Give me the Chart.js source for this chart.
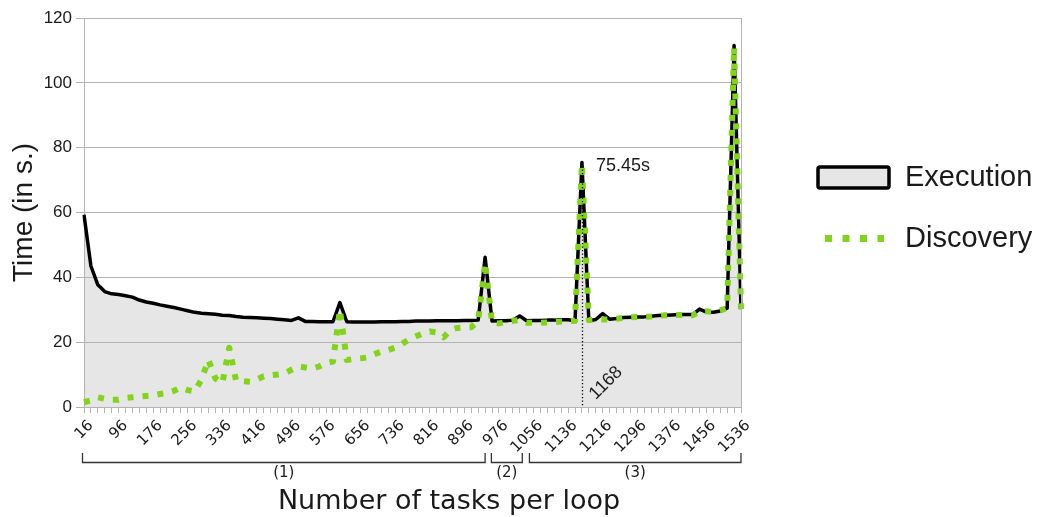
<!DOCTYPE html>
<html>
<head>
<meta charset="utf-8">
<script src="https://cdn.jsdelivr.net/npm/chart.js@4"></script>
<style>
  html, body { margin: 0; padding: 0; background: #ffffff; }
  #wrap { width: 1037px; height: 517px; position: relative; }
</style>
</head>
<body>
<div id="wrap"><canvas id="c"></canvas></div>
<script>
// Number of tasks per loop (x categories)
const tasks = [
  16, 32, 48, 64, 80, 96, 112, 128, 144, 160, 176, 192, 208, 224, 240, 256,
  272, 288, 304, 320, 336, 352, 368, 384, 400, 416, 432, 448, 464, 480, 496, 512,
  528, 544, 560, 576, 592, 608, 624, 640, 656, 672, 688, 704, 720, 736, 752, 768,
  784, 800, 816, 832, 848, 864, 880, 896, 912, 928, 944, 960, 976, 992, 1008, 1024,
  1040, 1056, 1072, 1088, 1104, 1120, 1136, 1152, 1168, 1184, 1200, 1216, 1232, 1248, 1264, 1280,
  1296, 1312, 1328, 1344, 1360, 1376, 1392, 1408, 1424, 1440, 1456, 1472, 1488, 1504, 1520, 1536
];

// Execution time (s)
const execution = [
  59.3, 43.5, 37.7, 35.6, 34.9, 34.7, 34.3, 33.9, 33.0, 32.4, 32.0, 31.5, 31.1, 30.7, 30.2, 29.7,
  29.2, 28.9, 28.8, 28.6, 28.3, 28.2, 27.9, 27.7, 27.6, 27.5, 27.4, 27.3, 27.1, 26.9, 26.7, 27.5,
  26.4, 26.4, 26.3, 26.3, 26.3, 32.2, 26.3, 26.2, 26.2, 26.2, 26.2, 26.3, 26.3, 26.3, 26.4, 26.4,
  26.5, 26.5, 26.5, 26.6, 26.6, 26.6, 26.6, 26.7, 26.7, 26.8, 46.2, 26.5, 26.6, 26.6, 26.8, 28.1,
  26.6, 26.7, 26.7, 26.8, 26.8, 26.9, 26.9, 26.6, 75.45, 26.6, 27.0, 28.8, 27.1, 27.3, 27.6, 27.7,
  27.8, 27.8, 28.0, 28.2, 28.3, 28.4, 28.5, 28.5, 28.5, 30.2, 29.3, 29.2, 29.6, 30.5, 111.5, 30.2
];

// Discovery time (s)
const discovery = [
  1.5, 2.0, 3.0, 2.5, 2.2, 2.2, 2.8, 3.0, 3.2, 3.4, 3.6, 4.0, 4.3, 5.0, 6.0, 5.2,
  4.8, 8.5, 14.5, 8.8, 7.3, 18.3, 8.0, 8.0, 7.8, 8.5, 9.5, 9.8, 10.0, 10.3, 11.5, 12.5,
  12.2, 11.8, 12.5, 13.5, 14.0, 30.0, 14.5, 14.8, 15.0, 15.3, 16.3, 17.1, 17.6, 18.3, 19.5, 20.8,
  21.8, 22.7, 23.3, 23.0, 21.5, 23.8, 24.4, 24.5, 24.6, 26.5, 44.5, 26.0, 25.8, 26.2, 26.6, 26.8,
  26.0, 26.0, 26.0, 26.1, 26.2, 26.4, 26.5, 26.6, 75.0, 26.8, 27.0, 27.0, 27.0, 27.2, 27.5, 27.7,
  27.8, 27.8, 27.9, 28.1, 28.3, 28.4, 28.4, 28.4, 28.3, 29.5, 29.5, 29.3, 29.8, 30.5, 111.0, 30.2
];

// Every fifth category carries a label
const labelEvery = 5;

// Task ranges grouped under the x axis
const sectionLabels = ['(1)', '(2)', '(3)'];
const sectionFrom   = [16, 962, 1050];
const sectionTo     = [944, 1030, 1536];

// Highlighted peak
const peakTask = 1168;
const peakValue = 75.45;

const GREEN = '#81d41a';
const GRID = '#b3b3b3';
const FILL = '#e6e6e6';
const TEXT = '#1a1a1a';

// Fractional category position for a task count
function taskIndex(t) { return (t - tasks[0]) / (tasks[1] - tasks[0]); }

const overlay = {
  id: 'overlay',
  afterDraw(chart) {
    const ctx = chart.ctx;
    const x = chart.scales.x, y = chart.scales.y;
    const area = chart.chartArea;
    ctx.save();

    // right frame edge
    ctx.strokeStyle = GRID;
    ctx.lineWidth = 1;
    ctx.beginPath();
    ctx.moveTo(Math.round(area.right) + 0.5, area.top);
    ctx.lineTo(Math.round(area.right) + 0.5, area.bottom);
    ctx.stroke();

    // dotted marker at the peak
    const px = x.getPixelForValue(taskIndex(peakTask));
    const py = y.getPixelForValue(peakValue);
    ctx.strokeStyle = '#000';
    ctx.lineWidth = 1.3;
    ctx.setLineDash([1.3, 2.2]);
    ctx.beginPath();
    ctx.moveTo(Math.round(px) + 0.5, py);
    ctx.lineTo(Math.round(px) + 0.5, area.bottom);
    ctx.stroke();
    ctx.setLineDash([]);

    ctx.fillStyle = TEXT;
    ctx.font = '18px "Liberation Sans", Arial, sans-serif';
    ctx.textAlign = 'left';
    ctx.textBaseline = 'middle';
    ctx.fillText(peakValue + 's', px + 14, py + 4);

    ctx.save();
    ctx.translate(px + 24, y.getPixelForValue(0) - 24);
    ctx.rotate(-Math.PI / 4);
    ctx.textAlign = 'center';
    ctx.fillText(String(peakTask), 0, 0);
    ctx.restore();

    // section brackets
    const by = 462, bh = 9;
    ctx.strokeStyle = '#333';
    ctx.lineWidth = 1.3;
    ctx.font = '15px "DejaVu Sans", sans-serif';
    ctx.textAlign = 'center';
    ctx.textBaseline = 'middle';
    for (let i = 0; i < sectionLabels.length; i++) {
      const x0 = x.getPixelForValue(taskIndex(sectionFrom[i])) - 1.5;
      const x1 = x.getPixelForValue(taskIndex(sectionTo[i]));
      ctx.beginPath();
      ctx.moveTo(x0, by - bh);
      ctx.lineTo(x0, by + 0.5);
      ctx.lineTo(x1, by + 0.5);
      ctx.lineTo(x1, by - bh);
      ctx.stroke();
      ctx.fillText(sectionLabels[i], (x0 + x1) / 2, by + 11);
    }

    // x axis title
    ctx.fillStyle = TEXT;
    ctx.font = '27px "DejaVu Sans", sans-serif';
    ctx.textAlign = 'center';
    ctx.textBaseline = 'middle';
    ctx.fillText('Number of tasks per loop', 449, 502);

    // legend
    ctx.lineWidth = 3.5;
    ctx.strokeStyle = '#000';
    ctx.fillStyle = FILL;
    ctx.beginPath();
    ctx.roundRect(818, 167, 71, 21, 2);
    ctx.fill();
    ctx.stroke();

    ctx.strokeStyle = GREEN;
    ctx.lineWidth = 7;
    ctx.setLineDash([7, 10.5]);
    ctx.beginPath();
    ctx.moveTo(825, 238.5);
    ctx.lineTo(884, 238.5);
    ctx.stroke();
    ctx.setLineDash([]);

    ctx.fillStyle = TEXT;
    ctx.font = '29px "Liberation Sans", Arial, sans-serif';
    ctx.textAlign = 'left';
    ctx.textBaseline = 'middle';
    ctx.fillText('Execution', 905, 178);
    ctx.fillText('Discovery', 905, 239);

    ctx.restore();
  }
};

new Chart(document.getElementById('c'), {
  type: 'line',
  data: {
    labels: tasks,
    datasets: [
      {
        label: 'Execution',
        data: execution,
        borderColor: '#000000',
        borderWidth: 3.5,
        borderJoinStyle: 'round',
        backgroundColor: FILL,
        fill: 'origin',
        pointRadius: 0,
        tension: 0,
        order: 2
      },
      {
        label: 'Discovery',
        data: discovery,
        borderColor: GREEN,
        borderWidth: 6,
        borderDash: [6, 9],
        borderCapStyle: 'butt',
        borderJoinStyle: 'round',
        fill: false,
        pointRadius: 0,
        tension: 0,
        order: 1
      }
    ]
  },
  options: {
    responsive: true,
    maintainAspectRatio: false,
    animation: false,
    devicePixelRatio: 1,
    layout: { padding: { top: 18, right: 296, left: 0, bottom: 0 } },
    plugins: {
      legend: { display: false },
      tooltip: { enabled: false },
      filler: { drawTime: 'beforeDraw' }
    },
    scales: {
      x: {
        type: 'category',
        offset: false,
        afterFit(s) { s.height = 110; },
        grid: { drawOnChartArea: false, drawTicks: true, tickLength: 6, color: GRID },
        border: { color: GRID },
        ticks: {
          autoSkip: false,
          minRotation: 45,
          maxRotation: 45,
          padding: 4,
          labelOffset: 7,
          color: TEXT,
          font: { family: '"DejaVu Sans", sans-serif', size: 15 },
          callback: (v, i) => (i % labelEvery === 0 ? String(tasks[i]) : '')
        },
        title: { display: false }
      },
      y: {
        min: 0,
        max: 120,
        afterFit(s) { s.width = 84; },
        grid: { color: GRID, tickLength: 8 },
        border: { color: GRID },
        ticks: {
          stepSize: 20,
          padding: 4,
          color: TEXT,
          font: { family: '"Liberation Sans", Arial, sans-serif', size: 17 }
        },
        title: {
          display: true,
          text: 'Time (in s.)',
          color: TEXT,
          font: { family: '"Liberation Sans", Arial, sans-serif', size: 28 },
          padding: { top: 7, bottom: 2 }
        }
      }
    }
  },
  plugins: [overlay]
});
</script>
</body>
</html>
